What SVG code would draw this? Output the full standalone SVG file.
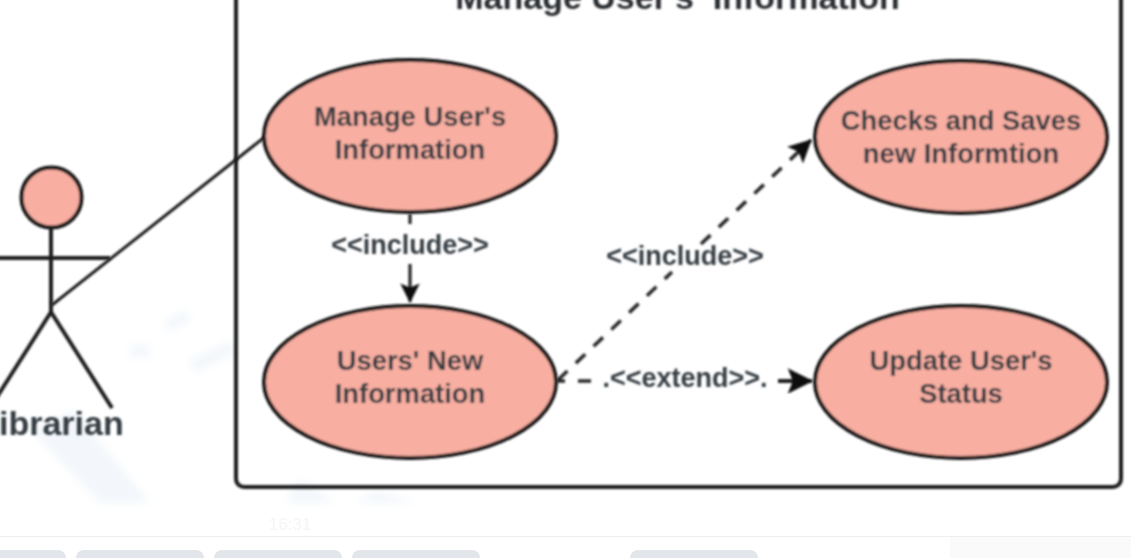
<svg xmlns="http://www.w3.org/2000/svg" width="1131" height="558" viewBox="0 0 1131 558">
<style>
text{font-family:"Liberation Sans",Arial,sans-serif;font-weight:700;fill:#363c42;text-anchor:middle}
.n{font-size:27.4px}
.l{font-size:27px}
.u{fill:#f8aea1;stroke:#141414;stroke-width:4}
.s{fill:none;stroke:#1c1c1c;stroke-width:4}
.c{fill:none;stroke:#1c1c1c;stroke-width:3}
.d{fill:none;stroke:#2a2a2a;stroke-width:3.6;stroke-dasharray:13 11.5}
.wm{fill:#eef4f9;opacity:.7}
.tab{fill:#e2e5e9}
.soft{filter:url(#b)}
</style>
<defs>
<filter id="b" x="-5%" y="-5%" width="110%" height="110%"><feGaussianBlur stdDeviation="0.8"/></filter>
<filter id="w" x="-20%" y="-20%" width="140%" height="140%"><feGaussianBlur stdDeviation="4"/></filter>
<marker id="a" viewBox="0 0 10 10" refX="9.5" refY="5" markerWidth="8" markerHeight="6.4" markerUnits="strokeWidth" orient="auto"><path d="M0 0L10 5L0 10L2 5Z" fill="#111"/></marker>
<marker id="v" viewBox="0 0 10 10" refX="9.5" refY="5" markerWidth="9" markerHeight="6.5" markerUnits="strokeWidth" orient="auto"><path d="M0 0L10 5L0 10L2 5Z" fill="#111"/></marker>
</defs>
<rect width="1131" height="558" fill="#fff"/>
<g id="watermark" filter="url(#w)">
<path class="wm" d="M30 430L75 410L150 503H100Z"/>
<path class="wm" d="M285 503L300 478L335 503Z"/>
<path class="wm" d="M355 503L375 490L420 503Z"/>
<rect class="wm" x="165" y="315" width="25" height="12" transform="rotate(-30 177 321)"/>
<rect class="wm" x="130" y="345" width="20" height="12"/>
<rect class="wm" x="190" y="350" width="45" height="14" transform="rotate(-25 212 357)"/>
</g>
<g id="footer">
<rect x="0" y="536" width="1131" height="1" fill="#eceef0"/>
<rect x="950" y="537" width="181" height="21" fill="#fafafa"/>
<path class="tab" d="M0 550H58a8 8 0 0 1 8 8H0Z"/>
<path class="tab" d="M76 558a8 8 0 0 1 8-8H196a8 8 0 0 1 8 8Z"/>
<path class="tab" d="M214 558a8 8 0 0 1 8-8H334a8 8 0 0 1 8 8Z"/>
<path class="tab" d="M352 558a8 8 0 0 1 8-8H472a8 8 0 0 1 8 8Z"/>
<path class="tab" d="M630 558a8 8 0 0 1 8-8H750a8 8 0 0 1 8 8Z"/>
<text x="290" y="530" style="font-size:17px;font-weight:400;fill:#f5f6f7">16:31</text>
</g>
<g id="system" class="soft">
<rect class="s" x="236" y="-20" width="885" height="507" rx="8" fill="none"/>
<text x="677.5" y="9" style="font-size:34px;fill:#2b2f33;white-space:pre" xml:space="preserve">Manage User's  Information</text>
</g>
<g id="connectors" class="soft">
<path class="c" d="M52 305L266 136"/>
<path class="c" d="M410 214V224"/>
<path class="c" d="M410 264V302" marker-end="url(#v)"/>
<path class="d" d="M558 380L672 272M701 244L811 140" marker-end="url(#a)"/>
<path class="d" d="M557 381h8M578 381h14"/>
<path class="s" d="M778 381H812" stroke-width="3.6" marker-end="url(#a)"/>
</g>
<g id="actor-librarian" class="soft">
<circle class="u" cx="51.500" cy="197.500" r="30"/>
<path class="s" d="M51 228V312M-5 258H110M-5 400L51 312L112 408" stroke-linejoin="round"/>
<text x="-1" y="435" style="font-size:34px;text-anchor:start">ibrarian</text>
</g>
<g id="uc-manage" class="soft">
<ellipse class="u" cx="410" cy="136" rx="146" ry="76"/>
<text x="410" y="126" class="n">Manage User's</text>
<text x="410" y="159" class="n">Information</text>
</g>
<g id="uc-new" class="soft">
<ellipse class="u" cx="410" cy="382" rx="146" ry="76"/>
<text x="410" y="370" class="n">Users' New</text>
<text x="410" y="403" class="n">Information</text>
</g>
<g id="uc-checks" class="soft">
<ellipse class="u" cx="961" cy="137" rx="146" ry="76"/>
<text x="961" y="130" class="n">Checks and Saves</text>
<text x="961" y="163" class="n">new Informtion</text>
</g>
<g id="uc-update" class="soft">
<ellipse class="u" cx="961" cy="382" rx="146" ry="76"/>
<text x="961" y="370" class="n">Update User's</text>
<text x="961" y="403" class="n">Status</text>
</g>
<g id="labels" class="soft">
<text x="410" y="254" class="l">&lt;&lt;include&gt;&gt;</text>
<text x="685" y="265" class="l">&lt;&lt;include&gt;&gt;</text>
<text x="685" y="387" class="l">.&lt;&lt;extend&gt;&gt;.</text>
</g>
</svg>
